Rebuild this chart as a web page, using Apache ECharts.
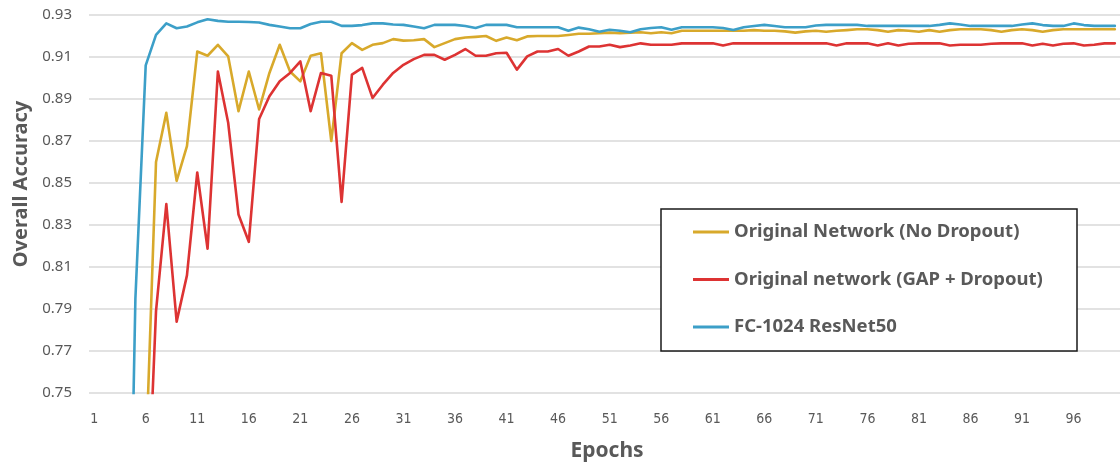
<!DOCTYPE html>
<html>
<head>
<meta charset="utf-8">
<script src="https://cdn.jsdelivr.net/npm/echarts@6/dist/echarts.min.js"></script>
<style>
  html, body { margin: 0; padding: 0; background: #fff; }
  #chart { width: 1120px; height: 467px; }
</style>
</head>
<body>
<div id="chart"></div>
<script>
// ---- Data ----
const epochs = Array.from({ length: 100 }, (_, i) => String(i + 1));

const seriesNames = [
  'Original Network (No Dropout)',
  'Original network (GAP + Dropout)',
  'FC-1024 ResNet50'
];

const noDropout = [
  0.30, 0.40, 0.50, 0.58, 0.65, 0.716, 0.860, 0.8834, 0.851, 0.8676,
  0.9126, 0.9106, 0.9158, 0.9103, 0.8842, 0.9031, 0.885, 0.9024, 0.9158, 0.9031,
  0.8984, 0.9106, 0.9118, 0.870, 0.9118, 0.9166, 0.9134, 0.9158, 0.9166, 0.9185,
  0.9178, 0.918, 0.9185, 0.9147, 0.9166, 0.9185, 0.9193, 0.9196, 0.920, 0.9177,
  0.9193, 0.918, 0.9198, 0.920, 0.920, 0.920, 0.9205, 0.9211, 0.9211, 0.9213,
  0.9216, 0.9213, 0.9216, 0.9218, 0.9213, 0.9218, 0.9213, 0.9225, 0.9225, 0.9225,
  0.9225, 0.9225, 0.9225, 0.9225, 0.9228, 0.9225, 0.9225, 0.9222, 0.9216, 0.9222,
  0.9225, 0.922, 0.9225, 0.9228, 0.9232, 0.9232, 0.9228, 0.922, 0.9228, 0.9225,
  0.922, 0.9228, 0.922, 0.9228, 0.9232, 0.9232, 0.9232, 0.9228, 0.922, 0.9228,
  0.9232, 0.9228, 0.922, 0.9228, 0.9232, 0.9232, 0.9232, 0.9232, 0.9232, 0.9232
];

const gapDropout = [
  0.25, 0.36, 0.45, 0.53, 0.60, 0.67, 0.789, 0.840, 0.784, 0.806,
  0.855, 0.8187, 0.9031, 0.8787, 0.835, 0.822, 0.8805, 0.8913, 0.8984, 0.9024,
  0.9079, 0.8842, 0.9024, 0.9011, 0.841, 0.9016, 0.9048, 0.8905, 0.8968, 0.9024,
  0.9063, 0.909, 0.911, 0.911, 0.9087, 0.911, 0.9138, 0.9106, 0.9106, 0.9118,
  0.912, 0.904, 0.9103, 0.9126, 0.9126, 0.9138, 0.9106, 0.9126, 0.915, 0.915,
  0.9158, 0.9147, 0.9155, 0.9165, 0.9158, 0.9158, 0.9158, 0.9165, 0.9165, 0.9165,
  0.9165, 0.9155, 0.9165, 0.9165, 0.9165, 0.9165, 0.9165, 0.9165, 0.9165, 0.9165,
  0.9165, 0.9165, 0.9155, 0.9165, 0.9165, 0.9165, 0.9155, 0.9165, 0.9155, 0.9163,
  0.9165, 0.9165, 0.9165, 0.9155, 0.9158, 0.9158, 0.9158, 0.9163, 0.9165, 0.9165,
  0.9165, 0.9155, 0.9163, 0.9155, 0.9163, 0.9165, 0.9155, 0.9158, 0.9165, 0.9165
];

const resnet50 = [
  0.31, 0.42, 0.49, 0.54, 0.795, 0.906, 0.9205, 0.926, 0.9237, 0.9245,
  0.9265, 0.928, 0.9272, 0.9268, 0.9268, 0.9267, 0.9264, 0.9253, 0.9245, 0.9237,
  0.9237, 0.9257, 0.9268, 0.9268, 0.9248, 0.9248, 0.9252, 0.926, 0.926, 0.9255,
  0.9253, 0.9245, 0.9237, 0.9253, 0.9253, 0.9253, 0.9248, 0.9238, 0.9253, 0.9253,
  0.9253, 0.9242, 0.9242, 0.9242, 0.9242, 0.9242, 0.9225, 0.924, 0.9232, 0.922,
  0.923, 0.9225, 0.9218, 0.9232, 0.9238, 0.9242, 0.923, 0.9242, 0.9242, 0.9242,
  0.9242, 0.9238, 0.9229, 0.9242, 0.9248, 0.9253, 0.9248, 0.9242, 0.9242, 0.9242,
  0.925, 0.9253, 0.9253, 0.9253, 0.9253, 0.9248, 0.9248, 0.9248, 0.9248, 0.9248,
  0.9248, 0.9248, 0.9253, 0.926, 0.9255, 0.9248, 0.9248, 0.9248, 0.9248, 0.9248,
  0.9255, 0.926, 0.9252, 0.9248, 0.9248, 0.926, 0.9252, 0.9248, 0.9248, 0.9248
];

const yTickLabels = ['0.75', '0.77', '0.79', '0.81', '0.83', '0.85', '0.87', '0.89', '0.91', '0.93'];

const colors = ['#D8A92B', '#DD3333', '#3C9FC8'];

// ---- Chart ----
const chart = echarts.init(document.getElementById('chart'), null, { renderer: 'canvas' });

const seriesData = [noDropout, gapDropout, resnet50];

chart.setOption({
  animation: false,
  backgroundColor: '#ffffff',
  grid: { left: 89, top: 15, width: 1045, height: 380, containLabel: false },
  xAxis: {
    type: 'category',
    data: epochs,
    boundaryGap: true,
    name: 'Epochs',
    nameLocation: 'middle',
    nameGap: 48,
    nameTextStyle: {
      fontFamily: 'Noto Sans', fontWeight: 'bold', fontSize: 21, color: '#595959',
      padding: [0, 0, 0, 5]
    },
    axisLine: { show: false },
    axisTick: { show: false },
    splitLine: { show: false },
    axisLabel: {
      interval: 4,
      margin: 19,
      fontFamily: 'Liberation Sans Narrow, DejaVu Sans Condensed, sans-serif',
      fontSize: 14,
      color: '#595959'
    }
  },
  yAxis: {
    type: 'value',
    min: 0.75,
    max: 0.93,
    interval: 0.01,
    name: 'Overall Accuracy',
    nameLocation: 'middle',
    nameGap: 57,
    nameTextStyle: {
      fontFamily: 'Noto Sans', fontWeight: 'bold', fontSize: 20, color: '#595959',
      padding: [0, 0, 0, 40]
    },
    axisLine: { show: false },
    axisTick: { show: false },
    axisLabel: {
      margin: 17,
      fontFamily: 'Noto Sans',
      fontSize: 15,
      color: '#595959',
      formatter: function (v) {
        const s = v.toFixed(2);
        return yTickLabels.indexOf(s) >= 0 ? s : '';
      }
    },
    splitLine: {
      show: true,
      lineStyle: { color: ['#d9d9d9', 'rgba(0,0,0,0)'], width: 1.5 }
    }
  },
  legend: {
    orient: 'vertical',
    left: 693,
    top: 221,
    padding: 0,
    itemWidth: 36,
    itemHeight: 3,
    itemGap: 25.5,
    icon: 'rect',
    selectedMode: false,
    z: 10,
    textStyle: {
      fontFamily: 'Noto Sans', fontWeight: 'bold', fontSize: 18.5, color: '#595959', lineHeight: 22
    },
    data: seriesNames
  },
  graphic: [{
    type: 'rect',
    z: 5,
    shape: { x: 661, y: 209, width: 416, height: 142 },
    style: { fill: '#ffffff', stroke: '#1a1a1a', lineWidth: 1.5 }
  }],
  series: seriesNames.map((name, i) => ({
    name: name,
    type: 'line',
    data: seriesData[i],
    showSymbol: false,
    symbol: 'none',
    smooth: false,
    clip: true,
    z: 2,
    color: colors[i],
    lineStyle: { color: colors[i], width: 2.6, join: 'round', cap: 'round' }
  }))
});
</script>
</body>
</html>
